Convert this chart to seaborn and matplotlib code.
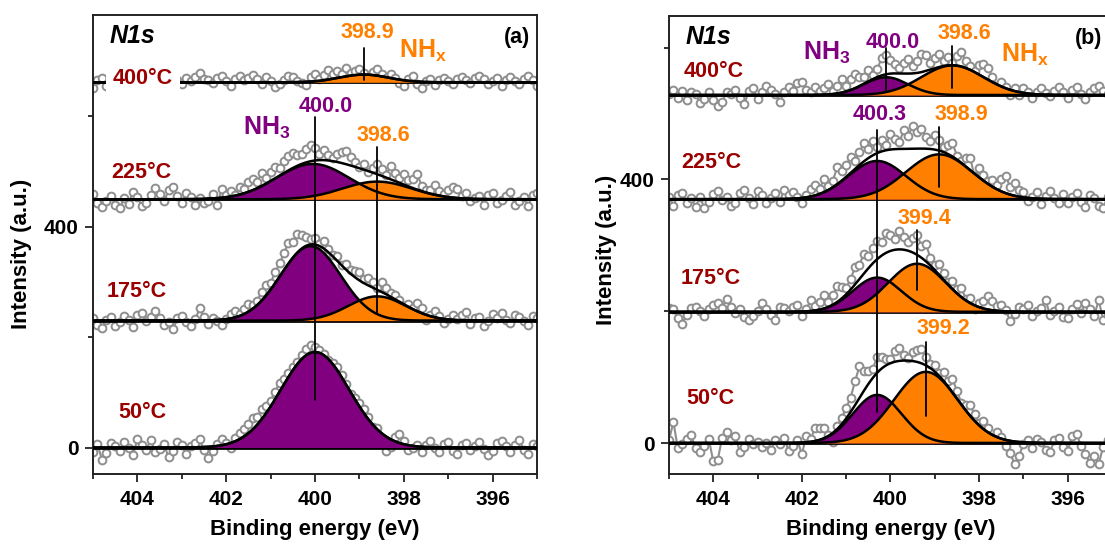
import numpy as np
import matplotlib
matplotlib.use('Agg')
import matplotlib.pyplot as plt
from matplotlib.ticker import MultipleLocator
import seaborn as sns

# Энергия связи (эВ), шаг 0.1
energy = np.linspace(405.0, 395.0, 101)
temps = ['50', '175', '225', '400']

# Панель (a): смещения спектров и параметры гауссиан (центр, высота, сигма)
offset_a = [0, 230, 450, 662]
nh3_pos_a = [400.0, 400.1, 400.05, 400.0]
nh3_amp_a = [173, 135, 64, 0]
nh3_sig_a = [0.77, 0.68, 0.82, 0.5]
nhx_pos_a = [398.6, 398.6, 398.6, 398.9]
nhx_amp_a = [0, 44, 32, 14]
nhx_sig_a = [0.6, 0.65, 0.78, 0.55]

# Панель (b)
offset_b = [0, 199, 370, 528]
nh3_pos_b = [400.3, 400.3, 400.3, 400.1]
nh3_amp_b = [73, 52, 58, 27]
nh3_sig_b = [0.55, 0.55, 0.65, 0.5]
nhx_pos_b = [399.2, 399.4, 398.9, 398.6]
nhx_amp_b = [108, 73, 68, 45]
nhx_sig_b = [0.72, 0.65, 0.75, 0.7]

# Отклонения точек от огибающей, 405 -> 395 эВ
resid_a50 = [-8, 6, -22, -10, 8, 2, -6, 10, 0, -14,
             16, 4, -4, 14, -8, -2, 6, -18, -6, 10,
             4, -12, 2, 8, 14, -6, -20, -8, 4, 12,
             2, -10, 6, 12, 14, 16, 20, 14, 18, 12,
             10, 14, 16, 10, 8, 6, 4, 8, 12, 14,
             10, 6, 2, -2, 2, 6, 4, 0, -4, 2,
             6, 8, 4, -4, 2, -18, -26, -14, 8, 16,
             6, -8, -4, 2, -10, 4, 12, -2, -8, 6,
             10, -6, -12, 4, 8, -4, 2, 10, -2, -14,
             -6, 8, 12, 2, -8, 4, 14, -4, -12, 6,
             2]
resid_a175 = [4, -8, -14, 2, 6, -10, -2, 8, 2, -12,
              10, 14, 0, 6, 18, 4, -8, -2, -16, 4,
              8, -2, -10, 2, 22, 6, -6, 4, -2, -10,
              0, 8, 12, 4, 10, 14, 6, 8, 16, 18,
              12, 20, 24, 30, 38, 28, 34, 24, 16, 10,
              12, 4, 14, 6, 2, 8, 0, 10, 6, 12,
              16, 8, 14, 10, 4, 18, 12, 6, 8, 2,
              -4, 4, 2, 14, 10, -10, 2, 12, 4, -8,
              0, 8, 2, 10, 16, -6, 4, 6, -10, 0,
              12, 4, 14, 2, -4, 10, 6, 0, -8, 8,
              4]
resid_a225 = [10, -6, -14, -4, 6, -10, -16, 2, -8, 14,
              4, -12, -6, 8, 20, 10, -4, 16, 22, 6,
              -6, 12, 4, -10, 2, -8, -4, 8, -12, 16,
              4, 10, 2, 14, 8, 18, 20, 12, 24, 10,
              16, 20, 14, 22, 26, 28, 20, 18, 24, 30,
              22, 12, 18, 10, 6, 14, 20, 24, 16, 8,
              2, 10, -2, 8, 18, 12, 4, 24, 14, 8,
              20, 12, 16, 28, 10, 4, 6, 18, 8, 4,
              12, 20, 16, 4, 10, -4, 2, 6, -10, 8,
              12, -6, -2, 6, 14, -10, -4, 4, -12, 8,
              12]
resid_a400 = [-10, 4, 8, -6, 10, 2, -4, 12, 6, -2,
              8, 4, -6, 10, 14, 2, -8, 6, 12, 4,
              -4, 8, 2, 10, 16, 6, 4, -2, 8, 12,
              2, -6, 6, 12, 4, 8, 14, 6, -4, 10,
              2, -8, -4, 4, 12, 10, 2, -2, -6, 8,
              14, 4, 10, 18, 8, 12, 6, 16, 4, 8,
              10, 2, -4, 6, 12, 4, -2, 8, 2, -6,
              -10, 4, 10, -4, -12, 2, 6, -6, 4, 8,
              2, -4, 6, 10, 4, -2, 8, 12, 6, -4,
              2, 8, -6, 4, 10, 2, -4, 6, 12, 4,
              -6]
resid_b50 = [4, 32, -8, -2, 6, 12, -8, -14, -4, 6,
             -28, -26, 8, 16, 4, 10, -14, -6, 6, -2,
             2, -6, 0, -10, 4, -2, 8, -12, -4, 4,
             -18, 10, 4, 20, 18, 16, 2, -14, 4, 10,
             16, 22, 36, 48, 30, 20, 14, 24, 18, 10,
             6, 16, 20, 8, 4, 14, 18, 22, 12, 6,
             10, 4, 14, 8, 20, 12, 2, 8, 16, 10,
             4, 12, 6, -4, 8, 2, -10, -18, -34, -22,
             -2, 4, -8, 6, 2, -10, -14, 4, 8, -6,
             -12, 10, 14, -4, -16, -30, -20, -32, -6, 4,
             -2]
resid_b175 = [6, 4, -10, -18, -4, 6, 8, 2, -6, 4,
              10, 14, 6, 20, 8, -2, 4, -8, -12, -6,
              2, 14, 4, -4, -12, 8, 6, 2, 8, 10,
              -6, 4, 16, 6, 12, 20, 8, 14, 24, 18,
              10, 16, 26, 22, 30, 18, 24, 28, 20, 30,
              24, 16, 28, 20, 14, 22, 30, 18, 26, 12,
              8, 16, 10, 4, 12, 6, 14, 2, 8, -6,
              6, 12, 20, 14, 8, 10, 2, -14, -4, 8,
              4, 10, -6, 2, 6, 18, -4, 2, 8, -8,
              -10, 4, 12, -2, 14, 4, -6, 18, -12, -4,
              10]
resid_b225 = [4, -10, 6, 10, -6, 2, -12, 4, -14, -4,
              8, 12, -2, 4, -10, -6, 10, 14, 2, -8,
              12, 6, -6, 2, 10, -4, 14, 6, 10, 2,
              -8, 4, 12, 16, 8, 20, 6, 10, 26, 14,
              18, 24, 12, 20, 28, 14, 22, 10, 18, 8,
              24, 16, 10, 28, 20, 34, 26, 30, 18, 12,
              22, 16, 8, 14, 20, 6, 2, 12, 18, -4,
              14, 8, 4, 10, 6, 18, 26, 12, 20, 10,
              8, -4, 2, 10, -8, 4, 12, 2, -6, 8,
              -6, 4, 10, -4, -12, 6, 2, -10, -14, 4,
              -6]
resid_b400 = [2, 8, -4, 6, -8, 4, 2, -12, -6, 4,
              -8, -16, -10, 4, 2, 8, -4, -14, 6, 10,
              -6, 4, 14, 8, 2, -10, 4, 12, 6, 18,
              20, 8, 4, 12, 6, 10, 16, 4, 12, 20,
              8, 16, 22, 14, 10, 18, 6, 12, 26, 30,
              20, 14, 8, 16, 22, 12, 18, 28, 24, 10,
              16, 20, 8, 12, 4, 14, 22, 10, 6, 2,
              14, 20, 18, 8, -2, 6, 2, -8, 4, -4,
              8, 2, -6, 4, 10, 2, -2, 6, 12, 4,
              -4, 8, 12, 2, -6, 4, 10, 14, 6, 2,
              8]

purple = '#800080'
orange = '#FF8000'
wine = '#9B0000'
grey = '#8E8E8E'

sns.set_theme(style='ticks')
plt.rcParams['font.family'] = ['Liberation Sans', 'DejaVu Sans']
plt.rcParams['font.weight'] = 'bold'
plt.rcParams['text.color'] = 'black'
plt.rcParams['axes.labelcolor'] = 'black'
plt.rcParams['xtick.color'] = 'black'
plt.rcParams['ytick.color'] = 'black'
plt.rcParams['mathtext.fontset'] = 'custom'
plt.rcParams['mathtext.bf'] = 'Liberation Sans:bold'
plt.rcParams['mathtext.rm'] = 'Liberation Sans:bold'


def gauss(x, pos, amp, sig):
    return amp * np.exp(-(x - pos) ** 2 / (2 * sig ** 2))


def draw_panel(ax, offsets, p1, a1, s1, p2, a2, s2, resid):
    fine = np.linspace(395, 405, 600)
    for i in range(4):
        off = offsets[i]
        g1 = gauss(fine, p1[i], a1[i], s1[i])
        g2 = gauss(fine, p2[i], a2[i], s2[i])
        env_pts = gauss(energy, p1[i], a1[i], s1[i]) + gauss(energy, p2[i], a2[i], s2[i])
        data = off + env_pts + np.array(resid[i])
        sns.lineplot(x=energy, y=data, ax=ax, sort=False, color=grey, lw=1.5,
                     marker='o', markersize=5.6, markerfacecolor='white',
                     markeredgecolor=grey, markeredgewidth=1.4, zorder=2)
        ax.axhline(off, color='black', lw=2, zorder=3)
        if a1[i] > 0:
            ax.fill_between(fine, off, off + g1, color=purple, lw=0, zorder=4)
        if a2[i] > 0:
            ax.fill_between(fine, off, off + g2, color=orange, lw=0, zorder=4)
        if a1[i] > 0:
            ax.plot(fine, off + g1, color='black', lw=1.8, zorder=5)
        if a2[i] > 0:
            ax.plot(fine, off + g2, color='black', lw=1.8, zorder=5)
        ax.plot(fine, off + g1 + g2, color='black', lw=1.8, zorder=5)


def style_axes(ax, ylim):
    ax.set_xlim(405, 395)
    ax.set_ylim(*ylim)
    ax.xaxis.set_major_locator(MultipleLocator(2))
    ax.xaxis.set_minor_locator(MultipleLocator(1))
    ax.yaxis.set_major_locator(MultipleLocator(400))
    ax.yaxis.set_minor_locator(MultipleLocator(200))
    ax.tick_params(which='major', direction='out', length=5.5, width=1.3,
                   labelsize=15, pad=5, color='#222222', labelcolor='black')
    ax.tick_params(which='minor', direction='out', length=3.5, width=1.3,
                   color='#222222')
    ax.tick_params(axis='x', which='major', pad=6)
    for s in ax.spines.values():
        s.set_linewidth(1.4)
        s.set_color('#222222')
        s.set_visible(True)
    ax.set_xlabel('Binding energy (eV)', fontsize=16, fontweight='bold', color='black')
    ax.set_ylabel('Intensity (a.u.)', fontsize=16, fontweight='bold', color='black')
    ax.xaxis.set_label_coords(0.5, -0.098)


fig = plt.figure(figsize=(11.05, 5.45), dpi=100)
ax1 = fig.add_axes([0.0842, 0.1303, 0.4018, 0.8422])
ax2 = fig.add_axes([0.6054, 0.1303, 0.4009, 0.8404])

# (a)
draw_panel(ax1, offset_a, nh3_pos_a, nh3_amp_a, nh3_sig_a, nhx_pos_a, nhx_amp_a, nhx_sig_a,
           [resid_a50, resid_a175, resid_a225, resid_a400])
style_axes(ax1, (-48, 784))
ax1.yaxis.set_label_coords(-0.137, 0.48)

# (b)
draw_panel(ax2, offset_b, nh3_pos_b, nh3_amp_b, nh3_sig_b, nhx_pos_b, nhx_amp_b, nhx_sig_b,
           [resid_b50, resid_b175, resid_b225, resid_b400])
style_axes(ax2, (-47, 648))
ax2.yaxis.set_label_coords(-0.118, 0.49)

# Подписи температур
temp_y_a = [64, 282, 499, 668]
temp_x_a = [404.44, 404.7, 404.6, 404.55]
for t, x, y in zip(temps, temp_x_a, temp_y_a):
    bb = dict(facecolor='white', edgecolor='none', pad=5) if t == '400' else None
    ax1.text(x, y, t + '°C', color=wine, fontsize=15.5, fontweight='bold',
             ha='left', va='center', zorder=8, bbox=bb)
temp_y_b = [67, 250, 425, 564]
temp_x_b = [404.6, 404.73, 404.73, 404.68]
for t, x, y in zip(temps, temp_x_b, temp_y_b):
    ax2.text(x, y, t + '°C', color=wine, fontsize=15.5, fontweight='bold',
             ha='left', va='center', zorder=8)

# Вертикальные метки пиков
for ax, lines in [(ax1, [(398.9, 666, 724), (400.0, 86, 599), (398.6, 244, 545)]),
                  (ax2, [(400.1, 532, 599), (398.6, 539, 602), (400.3, 47, 475),
                         (398.9, 388, 480), (399.4, 232, 323), (399.2, 41, 153)])]:
    for x, y0, y1 in lines:
        ax.plot([x, x], [y0, y1], color='black', lw=1.3, zorder=7)

# Подписи пиков
for ax, labels in [(ax1, [('398.9', 398.83, 753, orange), ('400.0', 399.75, 619, purple),
                          ('398.6', 398.45, 566, orange)]),
                   (ax2, [('400.0', 399.95, 608, purple), ('398.6', 398.33, 622, orange),
                          ('400.3', 400.25, 498, purple), ('398.9', 398.4, 498, orange),
                          ('399.4', 399.23, 341, orange), ('399.2', 398.8, 174, orange)])]:
    for txt, x, y, c in labels:
        ax.text(x, y, txt, color=c, fontsize=15.5, fontweight='bold',
                ha='center', va='center', zorder=8)

ax1.text(401.62, 566, r'$\mathbf{NH_3}$', color=purple, fontsize=18, ha='left', va='baseline', zorder=8)
ax1.text(398.11, 706, r'$\mathbf{NH_x}$', color=orange, fontsize=18, ha='left', va='baseline', zorder=8)
ax2.text(401.98, 581, r'$\mathbf{NH_3}$', color=purple, fontsize=18, ha='left', va='baseline', zorder=8)
ax2.text(397.5, 578, r'$\mathbf{NH_x}$', color=orange, fontsize=18, ha='left', va='baseline', zorder=8)

for ax, tag, tx in [(ax1, '(a)', 0.984), (ax2, '(b)', 0.916)]:
    ax.text(0.038, 0.955, 'N1s', transform=ax.transAxes, fontsize=18, fontweight='bold',
            fontstyle='italic', ha='left', va='center', zorder=8, color='black')
    ax.text(tx, 0.95, tag, transform=ax.transAxes, fontsize=15.5, fontweight='bold',
            ha='right' if tag == '(a)' else 'left', va='center', zorder=8, color='black')

fig.savefig('out.png', dpi=100)
